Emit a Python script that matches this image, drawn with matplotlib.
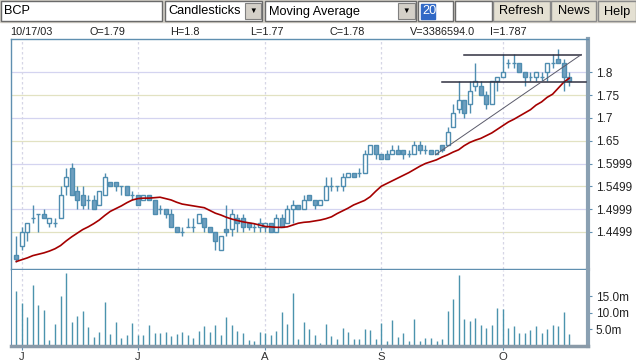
import numpy as np
import pandas as pd
import matplotlib
matplotlib.use("Agg")
import matplotlib.pyplot as plt
from matplotlib.patches import Rectangle

plt.rcParams['font.family'] = ['Liberation Sans', 'DejaVu Sans']

# daily data, BCP 30 May 2003 - 17 Oct 2003
dates = pd.bdate_range("2003-05-30", "2003-10-17")

opens = [1.40, 1.42, 1.45, 1.48, 1.49, 1.49, 1.47, 1.47, 1.48, 1.55,
         1.59, 1.54, 1.53, 1.52, 1.52, 1.51, 1.53, 1.56, 1.56, 1.55,
         1.55, 1.53, 1.53, 1.52, 1.53, 1.52, 1.50, 1.50, 1.49, 1.46,
         1.45, 1.46, 1.46, 1.47, 1.48, 1.46, 1.45, 1.41, 1.457, 1.457,
         1.48, 1.48, 1.47, 1.46, 1.46, 1.46, 1.47, 1.45, 1.48, 1.47,
         1.50, 1.51, 1.50, 1.53, 1.52, 1.51, 1.52, 1.55, 1.55, 1.55,
         1.57, 1.58, 1.58, 1.58, 1.62, 1.64, 1.62, 1.62, 1.62, 1.63,
         1.63, 1.62, 1.62, 1.64, 1.63, 1.63, 1.62, 1.64, 1.64, 1.68,
         1.72, 1.74, 1.73, 1.77, 1.77, 1.75, 1.73, 1.78, 1.79, 1.82,
         1.82, 1.82, 1.80, 1.79, 1.79, 1.79, 1.80, 1.82, 1.83, 1.82,
         1.79]
highs = [1.44, 1.46, 1.47, 1.51, 1.49, 1.50, 1.48, 1.48, 1.55, 1.59,
         1.60, 1.55, 1.55, 1.53, 1.53, 1.54, 1.58, 1.56, 1.56, 1.55,
         1.55, 1.54, 1.53, 1.53, 1.53, 1.52, 1.51, 1.50, 1.50, 1.46,
         1.46, 1.48, 1.48, 1.49, 1.48, 1.46, 1.45, 1.44, 1.51, 1.50,
         1.49, 1.49, 1.47, 1.47, 1.48, 1.47, 1.47, 1.49, 1.49, 1.51,
         1.52, 1.51, 1.53, 1.53, 1.52, 1.52, 1.57, 1.57, 1.55, 1.58,
         1.58, 1.58, 1.59, 1.63, 1.64, 1.64, 1.62, 1.63, 1.64, 1.64,
         1.63, 1.63, 1.65, 1.65, 1.64, 1.63, 1.63, 1.64, 1.68, 1.73,
         1.78, 1.74, 1.78, 1.82, 1.78, 1.76, 1.78, 1.79, 1.84, 1.83,
         1.84, 1.82, 1.80, 1.80, 1.80, 1.80, 1.82, 1.84, 1.85, 1.83,
         1.80]
lows = [1.385, 1.41, 1.43, 1.47, 1.45, 1.48, 1.46, 1.46, 1.48, 1.53,
        1.53, 1.50, 1.50, 1.50, 1.50, 1.51, 1.53, 1.55, 1.54, 1.53,
        1.53, 1.52, 1.51, 1.52, 1.52, 1.49, 1.49, 1.48, 1.46, 1.45,
        1.44, 1.46, 1.45, 1.47, 1.45, 1.45, 1.41, 1.41, 1.44, 1.44,
        1.45, 1.45, 1.455, 1.45, 1.45, 1.45, 1.45, 1.45, 1.46, 1.47,
        1.47, 1.50, 1.50, 1.52, 1.50, 1.51, 1.52, 1.54, 1.54, 1.54,
        1.57, 1.57, 1.57, 1.58, 1.62, 1.61, 1.61, 1.61, 1.62, 1.62,
        1.61, 1.615, 1.62, 1.62, 1.62, 1.62, 1.62, 1.625, 1.64, 1.68,
        1.71, 1.70, 1.71, 1.76, 1.75, 1.72, 1.73, 1.76, 1.79, 1.81,
        1.81, 1.80, 1.77, 1.78, 1.78, 1.78, 1.78, 1.81, 1.82, 1.76,
        1.77]
closes = [1.39, 1.45, 1.47, 1.48, 1.49, 1.48, 1.48, 1.47, 1.53, 1.57,
          1.53, 1.52, 1.51, 1.52, 1.50, 1.54, 1.57, 1.55, 1.55, 1.55,
          1.53, 1.53, 1.51, 1.53, 1.52, 1.49, 1.50, 1.49, 1.46, 1.45,
          1.45, 1.46, 1.46, 1.49, 1.46, 1.45, 1.43, 1.44, 1.45, 1.49,
          1.47, 1.46, 1.46, 1.46, 1.47, 1.47, 1.45, 1.48, 1.46, 1.50,
          1.51, 1.50, 1.52, 1.52, 1.51, 1.52, 1.55, 1.55, 1.55, 1.57,
          1.58, 1.57, 1.58, 1.62, 1.64, 1.62, 1.61, 1.61, 1.63, 1.62,
          1.62, 1.62, 1.64, 1.63, 1.63, 1.62, 1.63, 1.63, 1.67, 1.71,
          1.74, 1.71, 1.76, 1.78, 1.75, 1.73, 1.78, 1.79, 1.80, 1.82,
          1.82, 1.80, 1.79, 1.79, 1.80, 1.79, 1.82, 1.82, 1.82, 1.79,
          1.78]
# 20 day moving average as plotted
ma20 = [1.385, 1.389, 1.393, 1.398, 1.401, 1.404, 1.408, 1.413, 1.420, 1.430,
        1.439, 1.447, 1.455, 1.461, 1.468, 1.476, 1.486, 1.495, 1.501, 1.507,
        1.514, 1.520, 1.523, 1.524, 1.524, 1.525, 1.526, 1.523, 1.520, 1.515,
        1.511, 1.509, 1.507, 1.505, 1.503, 1.497, 1.491, 1.487, 1.482, 1.478,
        1.475, 1.472, 1.470, 1.468, 1.465, 1.462, 1.461, 1.460, 1.460, 1.461,
        1.465, 1.469, 1.471, 1.472, 1.474, 1.476, 1.479, 1.483, 1.490, 1.496,
        1.502, 1.509, 1.514, 1.519, 1.527, 1.539, 1.550, 1.556, 1.562, 1.568,
        1.574, 1.580, 1.587, 1.594, 1.600, 1.604, 1.608, 1.614, 1.619, 1.625,
        1.630, 1.639, 1.646, 1.651, 1.655, 1.661, 1.667, 1.675, 1.683, 1.691,
        1.697, 1.704, 1.711, 1.718, 1.728, 1.735, 1.745, 1.752, 1.765, 1.778,
        1.787]
# volume in millions
volume = [16.7, 12.9, 8.8, 18.4, 12.4, 10.9, 1.7, 6.6, 15.2, 22.1,
          7.2, 9.1, 10.6, 5.7, 2.7, 4.2, 13.4, 3.6, 7.2, 2.3,
          3.3, 6.9, 3.3, 3.3, 6.3, 3.9, 3.9, 4.2, 3.0, 3.6,
          4.2, 3.3, 2.3, 4.5, 6.0, 4.2, 6.3, 3.3, 8.8, 6.3,
          4.5, 3.9, 1.7, 1.4, 4.2, 3.9, 3.3, 4.5, 10.3, 6.6,
          16.1, 2.0, 7.2, 5.1, 3.3, 0.9, 6.6, 3.0, 2.0, 5.4,
          4.2, 2.0, 2.0, 5.1, 4.8, 2.0, 6.9, 1.4, 7.9, 2.7,
          3.9, 1.4, 8.2, 1.4, 2.3, 2.3, 1.4, 2.0, 10.6, 14.3,
          21.6, 8.2, 7.6, 8.5, 6.3, 5.4, 6.3, 11.5, 11.2, 5.4,
          6.0, 3.9, 3.9, 4.8, 6.0, 3.9, 5.1, 6.3, 6.0, 10.3,
          3.39]

price_ticks = [1.8, 1.75, 1.7, 1.65, 1.5999, 1.5499, 1.4999, 1.4499]
price_labels = ['1.8', '1.75', '1.7', '1.65', '1.5999', '1.5499', '1.4999', '1.4499']
vol_ticks = [5, 10, 15]
vol_labels = ['5.0m', '10.0m', '15.0m']

# user drawn trend lines (day index, price)
trend_x = [[81, 102.2], [77, 103.1], [75.8, 102.2]]
trend_y = [[1.839, 1.839], [1.779, 1.779], [1.619, 1.839]]

o = np.array(opens); h = np.array(highs); l = np.array(lows); c = np.array(closes)
x = np.arange(len(dates))
months = [i for i in range(1, len(dates)) if dates[i].month != dates[i - 1].month]
month_labels = [dates[i].strftime('%B')[0] for i in months]

W, H = 636, 364
def box(left, top, right, bottom):
    return [left / W, 1 - bottom / H, (right - left) / W, (bottom - top) / H]

fig = plt.figure(figsize=(6.36, 3.64), dpi=100)
fig.patch.set_facecolor('white')

frame = '#5f8fb0'
edge = '#4f8db0'
ax = fig.add_axes(box(11, 39, 588, 269))
axv = fig.add_axes(box(11, 270, 588, 345.5), sharex=ax)

# grid
for i, t in enumerate(price_ticks):
    ax.axhline(t, color=['#d4d4f0', '#e2e2c2'][i % 2], lw=0.9, zorder=0)
for m in months:
    ax.axvline(m, color='#d6d6e6', lw=0.9, ls=(0, (2, 2)), zorder=0)
    axv.axvline(m, color='#d6d6e6', lw=0.9, ls=(0, (2, 2)), zorder=0)

# candles
up = c >= o
lo = np.minimum(o, c)
hgt = np.abs(c - o)
ax.vlines(x, l, h, color=edge, lw=1.0, zorder=2)
ax.bar(x[up], hgt[up], bottom=lo[up], width=0.72, facecolor='white',
       edgecolor=edge, lw=1.0, zorder=3)
ax.bar(x[~up], hgt[~up], bottom=lo[~up], width=0.72, facecolor='#6f9fbf',
       edgecolor=edge, lw=1.0, zorder=3)
ax.plot(x, ma20, color='#a50000', lw=1.2, zorder=4)

for tx, ty, col, lw in zip(trend_x, trend_y, ['#303040', '#303040', '#5a5a6a'], [1.1, 1.1, 0.7]):
    ax.plot(tx, ty, color=col, lw=lw, zorder=5)

ax.set_xlim(-0.96, 103.4)
ax.set_ylim(1.3686, 1.873)
ax.yaxis.tick_right()
ax.set_yticks(price_ticks, price_labels)
ax.tick_params(axis='y', labelsize=8.5, colors=frame, labelcolor='#222222', length=3, pad=2.5)
ax.tick_params(axis='x', bottom=False, labelbottom=False)
for s in ['left', 'top', 'bottom']:
    ax.spines[s].set_color(frame)
    ax.spines[s].set_linewidth(1)
ax.spines['right'].set_color('#8aa0b2')
ax.spines['right'].set_linewidth(3)

# volume
axv.vlines(x, 0, volume, color='#4b93ad', lw=1.0, zorder=2)
axv.set_ylim(0, 23.1)
axv.yaxis.tick_right()
axv.set_yticks(vol_ticks, vol_labels)
axv.tick_params(axis='y', labelsize=8.5, colors=frame, labelcolor='#222222', length=3, pad=2.5)
axv.set_xticks(months, month_labels)
axv.tick_params(axis='x', labelsize=8.2, colors=frame, labelcolor='#333333', length=3, pad=2)
axv.spines['top'].set_visible(False)
axv.spines['left'].set_color(frame)
axv.spines['bottom'].set_color('#8a9aa8')
axv.spines['bottom'].set_linewidth(2.5)
axv.spines['right'].set_color('#8aa0b2')
axv.spines['right'].set_linewidth(3)

# toolbar and info row, in pixel coordinates
ui = fig.add_axes([0, 0, 1, 1], zorder=10)
ui.set_xlim(0, W)
ui.set_ylim(H, 0)
ui.axis('off')
ui.patch.set_visible(False)

ui.add_patch(Rectangle((0, 0), W, 22, color='#d4d0c8'))

def field(x0, x1, text=None, tx=None):
    ui.add_patch(Rectangle((x0, 1), x1 - x0, 20, facecolor='white', edgecolor='#6a6a6a', lw=1))
    if text:
        ui.text(tx, 11.5, text, fontsize=9.2, va='center', ha='left', color='black')

def dropdown(x0, x1):
    ui.add_patch(Rectangle((x0, 3), x1 - x0, 16, facecolor='#d4d0c8', edgecolor='#808080', lw=0.8))
    ui.text((x0 + x1) / 2, 11.5, '\u25bc', fontsize=5.5, ha='center', va='center', color='black')

def button(x0, x1, text):
    ui.add_patch(Rectangle((x0, 1), x1 - x0, 20, facecolor='#e4e0d2', edgecolor='#8a8a8a', lw=1))
    ui.text((x0 + x1) / 2, 11.5, text, fontsize=9.2, ha='center', va='center', color='black')

field(0.5, 162, 'BCP', 4)
field(165, 262, 'Candlesticks', 168)
dropdown(245, 261)
field(265, 416, 'Moving Average', 269)
dropdown(398, 415)
field(418, 453)
ui.add_patch(Rectangle((421, 4), 14, 15, color='#3169c6'))
ui.text(422, 11.5, '20', fontsize=9.2, va='center', ha='left', color='white')
field(455, 492)
button(493, 550, 'Refresh')
button(551, 596, 'News')
button(598, 635.5, 'Help')

info = ['10/17/03', 'O=1.79', 'H=1.8', 'L=1.77', 'C=1.78', 'V=3386594.0', 'I=1.787']
for i, s in enumerate(info):
    ui.text(10 + 80 * i, 32, s, fontsize=7.8, va='center', ha='left', color='#202020')

fig.savefig('out.png', dpi=100)
